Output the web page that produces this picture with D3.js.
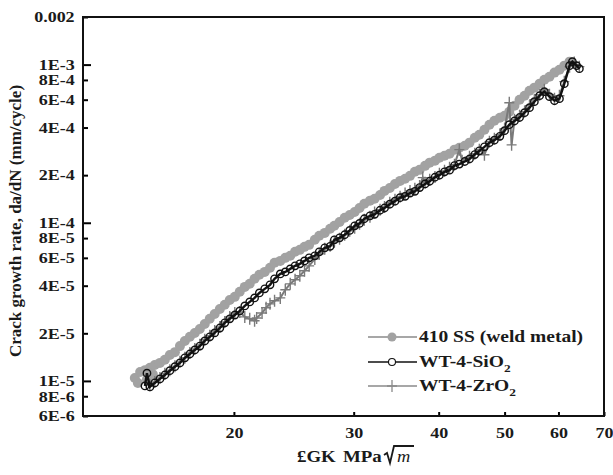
<!DOCTYPE html>
<html>
<head>
<meta charset="utf-8">
<script src="https://cdn.jsdelivr.net/npm/d3@7"></script>
<style>
  body { margin: 0; background: #fff; }
  text { font-family: "Liberation Serif", "Times New Roman", serif; font-weight: bold; }
</style>
</head>
<body>
<div id="chart"></div>
<script>
// crack growth rate vs delta K, log-log

// [deltaK, da/dN] for each material
var ss410 = [[14.3,1.044e-5],[14.45,9.7e-6],[14.56,1.14e-5],[14.8,1.17e-5],[14.9,1.02e-5],[15.05,1.21e-5],[15.2,1.1e-5],[15.3,1.26e-5],[15.57,1.30e-5],[15.83,1.36e-5],[16.1,1.46e-5],[16.38,1.52e-5],[16.66,1.66e-5],[16.94,1.79e-5],[17.23,1.90e-5],[17.52,2.01e-5],[17.82,2.13e-5],[18.12,2.29e-5],[18.43,2.47e-5],[18.74,2.65e-5],[19.07,2.85e-5],[19.39,3.03e-5],[19.72,3.25e-5],[20.06,3.40e-5],[20.4,3.66e-5],[20.75,3.93e-5],[21.1,4.11e-5],[21.45,4.42e-5],[21.8,4.69e-5],[22.2,4.89e-5],[22.6,5.19e-5],[22.95,5.58e-5],[23.4,5.74e-5],[23.8,6.0e-5],[24.2,6.18e-5],[24.6,6.55e-5],[25.0,6.74e-5],[25.4,7.04e-5],[25.8,7.25e-5],[26.3,7.80e-5],[26.7,8.27e-5],[27.2,8.63e-5],[27.7,9.16e-5],[28.1,9.57e-5],[28.6,1.01e-4],[29.1,1.075e-4],[29.6,1.12e-4],[30.1,1.17e-4],[30.6,1.24e-4],[31.1,1.32e-4],[31.7,1.38e-4],[32.2,1.42e-4],[32.8,1.50e-4],[33.3,1.59e-4],[33.9,1.66e-4],[34.5,1.76e-4],[35.1,1.84e-4],[35.7,1.90e-4],[36.3,1.98e-4],[36.9,2.10e-4],[37.5,2.16e-4],[38.2,2.29e-4],[38.8,2.40e-4],[39.5,2.47e-4],[40.1,2.58e-4],[40.8,2.65e-4],[41.5,2.73e-4],[42.2,2.90e-4],[42.9,2.98e-4],[43.7,3.07e-4],[44.4,3.21e-4],[45.2,3.45e-4],[45.9,3.60e-4],[46.7,3.87e-4],[47.5,4.17e-4],[48.3,4.42e-4],[49.2,4.61e-4],[50.0,4.75e-4],[50.8,5.04e-4],[51.7,5.50e-4],[52.6,6.0e-4],[53.5,6.36e-4],[54.4,6.84e-4],[55.3,7.15e-4],[56.3,7.58e-4],[57.2,8.03e-4],[58.2,8.39e-4],[59.2,8.90e-4],[60.2,9.29e-4],[61.2,9.85e-4],[62.3,1.044e-3]];

var wtSiO2 = [[14.8,9.29e-6],[14.9,1.12e-5],[15.05,9.16e-6],[15.3,9.71e-6],[15.57,1.03e-5],[15.83,1.09e-5],[16.1,1.16e-5],[16.38,1.23e-5],[16.66,1.30e-5],[16.94,1.40e-5],[17.23,1.48e-5],[17.52,1.57e-5],[17.82,1.66e-5],[18.12,1.79e-5],[18.43,1.90e-5],[18.74,2.01e-5],[19.07,2.16e-5],[19.39,2.33e-5],[19.72,2.47e-5],[20.06,2.61e-5],[20.4,2.77e-5],[20.75,2.98e-5],[21.1,3.16e-5],[21.45,3.35e-5],[21.8,3.60e-5],[22.2,3.82e-5],[22.6,4.05e-5],[22.95,4.42e-5],[23.4,4.75e-5],[23.8,4.89e-5],[24.2,5.11e-5],[24.6,5.34e-5],[25.0,5.50e-5],[25.4,5.74e-5],[25.8,6.0e-5],[26.3,6.18e-5],[26.7,6.55e-5],[27.2,6.94e-5],[27.7,7.1e-5],[28.1,7.8e-5],[28.6,8.03e-5],[29.1,8.4e-5],[29.6,8.95e-5],[30.1,9.57e-5],[30.6,9.9e-5],[31.1,1.06e-4],[31.7,1.107e-4],[32.2,1.13e-4],[32.8,1.2e-4],[33.3,1.24e-4],[33.9,1.31e-4],[34.5,1.37e-4],[35.1,1.44e-4],[35.7,1.47e-4],[36.3,1.54e-4],[36.9,1.58e-4],[37.5,1.67e-4],[38.2,1.76e-4],[38.8,1.83e-4],[39.5,1.94e-4],[40.1,2.0e-4],[40.8,2.10e-4],[41.5,2.15e-4],[42.2,2.30e-4],[42.9,2.35e-4],[43.7,2.44e-4],[44.4,2.53e-4],[45.2,2.70e-4],[45.9,2.85e-4],[46.7,3.02e-4],[47.5,3.21e-4],[48.3,3.33e-4],[49.2,3.52e-4],[50.0,3.82e-4],[50.8,4.17e-4],[51.7,4.40e-4],[52.6,4.63e-4],[53.5,4.97e-4],[54.4,5.34e-4],[55.3,5.83e-4],[56.3,6.36e-4],[57.2,6.74e-4],[58.2,6.27e-4],[59.2,5.91e-4],[60.2,6.09e-4],[61.2,7.58e-4],[62.3,9.85e-4],[62.9,1.044e-3],[63.8,9.85e-4],[64.4,9.42e-4]];

var wtZrO2 = [[15.05,9.4e-6],[15.3,9.85e-6],[15.57,1.044e-5],[15.83,1.11e-5],[16.1,1.17e-5],[16.38,1.24e-5],[16.66,1.32e-5],[16.94,1.40e-5],[17.23,1.50e-5],[17.52,1.59e-5],[17.82,1.69e-5],[18.12,1.82e-5],[18.43,1.93e-5],[18.74,2.07e-5],[19.07,2.19e-5],[19.39,2.36e-5],[19.72,2.54e-5],[20.06,2.69e-5],[20.4,2.73e-5],[20.75,2.54e-5],[21.1,2.47e-5],[21.45,2.40e-5],[21.6,2.50e-5],[22.0,2.69e-5],[22.3,2.90e-5],[22.6,3.07e-5],[22.95,3.21e-5],[23.4,3.35e-5],[23.8,3.77e-5],[24.2,4.11e-5],[24.6,4.36e-5],[25.0,4.62e-5],[25.4,4.97e-5],[25.8,5.34e-5],[26.3,5.91e-5],[26.7,6.36e-5],[27.2,6.84e-5],[27.7,7.15e-5],[28.1,7.58e-5],[28.6,7.92e-5],[29.1,8.39e-5],[29.6,8.89e-5],[30.1,9.29e-5],[30.6,9.85e-5],[31.1,1.044e-4],[31.7,1.09e-4],[32.2,1.16e-4],[32.8,1.21e-4],[33.3,1.26e-4],[33.9,1.34e-4],[34.5,1.40e-4],[35.1,1.46e-4],[35.7,1.53e-4],[36.3,1.59e-4],[36.9,1.64e-4],[37.5,1.71e-4],[37.9,1.93e-4],[38.2,1.79e-4],[38.8,1.87e-4],[39.5,1.95e-4],[40.1,2.04e-4],[40.8,2.13e-4],[41.5,2.23e-4],[42.2,2.33e-4],[42.9,2.90e-4],[43.3,2.47e-4],[44.4,2.61e-4],[45.2,2.73e-4],[45.9,2.90e-4],[46.7,2.69e-4],[47.5,3.25e-4],[48.3,3.40e-4],[49.2,3.60e-4],[50.0,3.93e-4],[50.8,5.74e-4],[51.2,3.11e-4],[51.7,4.48e-4],[52.6,4.75e-4],[53.5,5.04e-4],[54.4,5.50e-4],[55.3,6.0e-4],[56.3,6.45e-4],[57.2,6.94e-4],[58.2,6.45e-4],[59.2,6.09e-4],[60.2,6.36e-4],[61.2,7.80e-4],[62.3,9.71e-4],[63.3,1.03e-3],[64.4,9.71e-4]];

var xTicks = [20, 30, 40, 50, 60, 70];
var yTicks = [0.002, 1e-3, 8e-4, 6e-4, 4e-4, 2e-4, 1e-4, 8e-5, 6e-5, 4e-5, 2e-5, 1e-5, 8e-6, 6e-6];
var yTickLabels = ["0.002", "1E-3", "8E-4", "6E-4", "4E-4", "2E-4", "1E-4", "8E-5", "6E-5", "4E-5", "2E-5", "1E-5", "8E-6", "6E-6"];
var yMajor = [1e-3, 1e-4, 1e-5];
var legendNames = ["410 SS (weld metal)", "WT-4-SiO", "WT-4-ZrO"];

var W = 613, H = 475;
var margin = {left: 83, top: 17, right: 9, bottom: 59};
var stretch = 1.2; // the printed figure is a little wider than its glyphs

var svg = d3.select("#chart").append("svg")
    .attr("width", W)
    .attr("height", H);

var x = d3.scaleLog().domain([12, 70]).range([margin.left, W - margin.right]);
var y = d3.scaleLog().domain([6e-6, 0.002]).range([H - margin.bottom, margin.top]);

// series
var line = d3.line()
    .x(function (d) { return x(d[0]); })
    .y(function (d) { return y(d[1]); });

var g = svg.append("g");

g.selectAll(".ss")
    .data(ss410).enter()
    .append("circle")
    .attr("cx", function (d) { return x(d[0]); })
    .attr("cy", function (d) { return y(d[1]); })
    .attr("r", 5)
    .style("fill", "#a2a2a2");

g.append("path")
    .datum(wtZrO2)
    .attr("d", line)
    .style("fill", "none")
    .style("stroke", "#7a7a7a")
    .style("stroke-width", 2);

g.selectAll(".zr")
    .data(wtZrO2).enter()
    .append("path")
    .attr("d", function (d) {
        var cx = x(d[0]), cy = y(d[1]);
        return "M" + (cx - 5) + "," + cy + "H" + (cx + 5) + "M" + cx + "," + (cy - 6) + "V" + (cy + 6);
    })
    .style("stroke", "#7a7a7a")
    .style("stroke-width", 1.4);

g.append("path")
    .datum(wtSiO2)
    .attr("d", line)
    .style("fill", "none")
    .style("stroke", "#111")
    .style("stroke-width", 2.4);

g.selectAll(".si")
    .data(wtSiO2).enter()
    .append("circle")
    .attr("cx", function (d) { return x(d[0]); })
    .attr("cy", function (d) { return y(d[1]); })
    .attr("r", 3.7)
    .style("fill", "none")
    .style("stroke", "#111")
    .style("stroke-width", 1.4);

// axes
var yAxis = d3.axisLeft(y)
    .tickValues(yTicks)
    .tickFormat(function (d, i) { return yTickLabels[i]; })
    .tickSizeInner(-5)
    .tickSizeOuter(0)
    .tickPadding(7);

var ya = svg.append("g")
    .attr("transform", "translate(" + margin.left + ",0)")
    .call(yAxis);
ya.selectAll(".tick line")
    .attr("x2", function (d) { return yMajor.indexOf(d) >= 0 ? 8 : 5; })
    .style("stroke-width", 2);
ya.select(".domain").remove();

var xAxis = d3.axisBottom(x)
    .tickValues(xTicks)
    .tickFormat(d3.format("d"))
    .tickSizeInner(-4)
    .tickSizeOuter(0)
    .tickPadding(11);

var xa = svg.append("g")
    .attr("transform", "translate(0," + (H - margin.bottom) + ")")
    .call(xAxis);
xa.selectAll(".tick line").style("stroke-width", 2);
xa.select(".domain").remove();

svg.selectAll(".tick text")
    .style("font-size", "15px")
    .style("font-family", "'Liberation Serif', serif")
    .style("font-weight", "bold")
    .attr("fill", "#1a1a1a")
    .attr("transform", "scale(" + stretch + ",1)");

// frame
svg.append("rect")
    .attr("x", margin.left)
    .attr("y", margin.top)
    .attr("width", W - margin.right - margin.left)
    .attr("height", H - margin.bottom - margin.top)
    .style("fill", "none")
    .style("stroke", "#111")
    .style("stroke-width", 2);

// axis titles
svg.append("text")
    .attr("transform", "translate(21," + 221 + ") rotate(-90)")
    .attr("text-anchor", "middle")
    .style("font-size", "17px")
    .attr("fill", "#1a1a1a")
    .text("Crack growth rate, da/dN (mm/cycle)");

svg.append("text")
    .attr("transform", "translate(297,462) scale(1.18,1)")
    .style("font-size", "16px")
    .attr("fill", "#1a1a1a")
    .text("£GK");
svg.append("text")
    .attr("transform", "translate(343,462) scale(1.18,1)")
    .style("font-size", "16px")
    .attr("fill", "#1a1a1a")
    .text("MPa");
svg.append("path")
    .attr("d", "M384,455 L387,453 L390,463 L394,446 L414,446")
    .style("fill", "none")
    .style("stroke", "#1a1a1a")
    .style("stroke-width", 1.8);
svg.append("text")
    .attr("transform", "translate(397,462) scale(1.15,1)")
    .style("font-size", "16px")
    .style("font-style", "italic")
    .style("font-weight", "normal")
    .attr("fill", "#1a1a1a")
    .text("m");

// legend
var lg = svg.append("g");
var rows = [337, 362, 386];
rows.forEach(function (ry, i) {
    lg.append("line")
        .attr("x1", 368).attr("x2", 417)
        .attr("y1", ry).attr("y2", ry)
        .style("stroke", i == 1 ? "#111" : "#8a8a8a")
        .style("stroke-width", 1.5);
    var t = lg.append("text")
        .attr("transform", "translate(419," + (ry + 5) + ") scale(1.22,1)")
        .style("font-size", "16px")
        .attr("fill", "#1a1a1a")
        .text(legendNames[i]);
    if (i > 0) {
        t.append("tspan").attr("dy", 5).style("font-size", "11px").text("2");
    }
});
lg.append("circle").attr("cx", 392).attr("cy", rows[0]).attr("r", 4.5).style("fill", "#a2a2a2");
lg.append("circle").attr("cx", 392).attr("cy", rows[1]).attr("r", 3.5)
    .style("fill", "#fff").style("stroke", "#111").style("stroke-width", 1.1);
lg.append("path")
    .attr("d", "M387," + rows[2] + "H397M392," + (rows[2] - 6) + "V" + (rows[2] + 6))
    .style("stroke", "#8a8a8a").style("stroke-width", 1.3);
</script>
</body>
</html>
